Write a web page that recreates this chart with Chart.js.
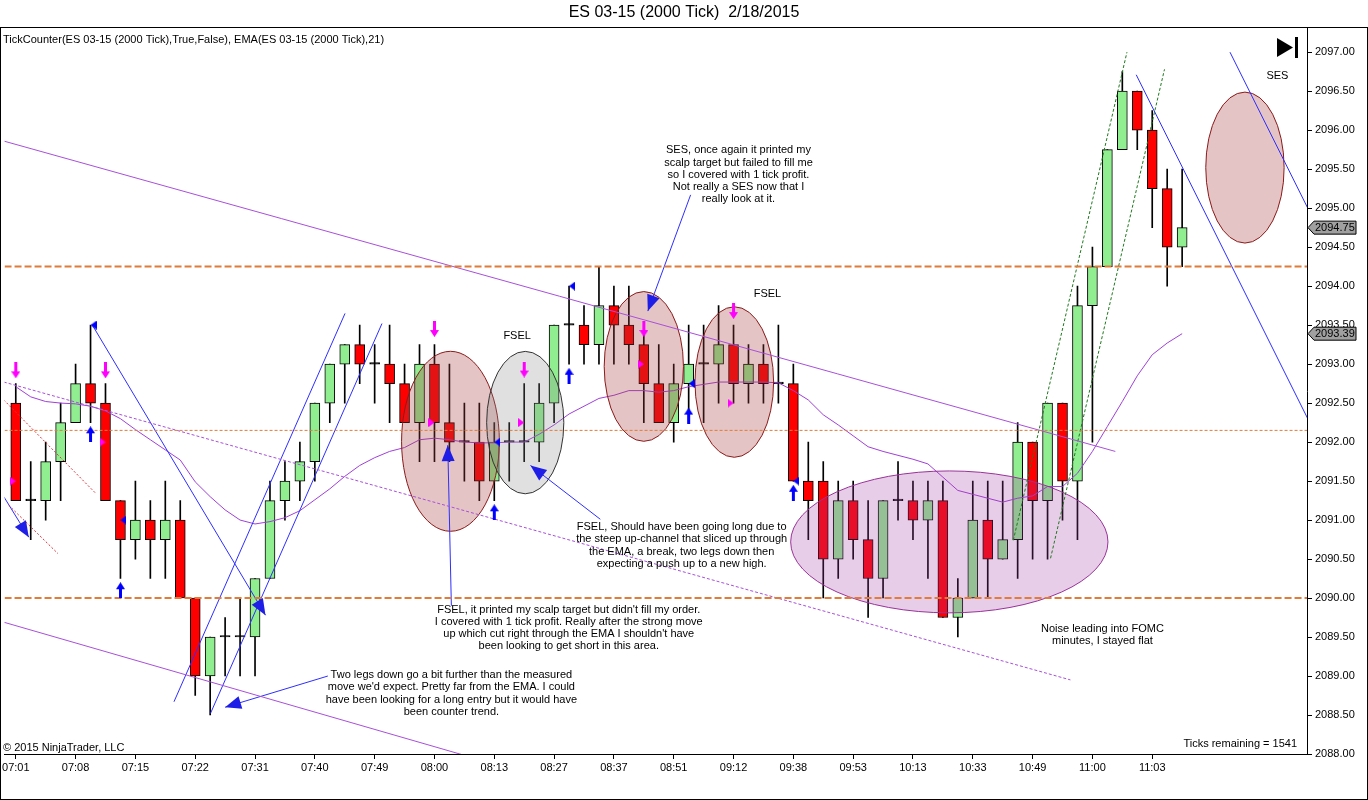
<!DOCTYPE html>
<html>
<head>
<meta charset="utf-8">
<script src="https://cdn.jsdelivr.net/npm/chart.js@4.4.1/dist/chart.umd.min.js"></script>
<style>
  html, body { margin: 0; padding: 0; background: #fff; }
  canvas { display: block; }
</style>
</head>
<body>
<canvas id="chart" width="1368" height="800"></canvas>
<script>
// ES 03-15 (2000 Tick) 2/18/2015
const timeLabels = ['07:01','07:08','07:15','07:22','07:31','07:40','07:49','08:00','08:13','08:27',
  '08:37','08:51','09:12','09:38','09:53','10:13','10:33','10:49','11:00','11:03'];
const labelStep = 4;

const opens = [
  2092.50,2091.25,2091.25,2091.75,2092.25,2092.75,2092.50,2091.25,2090.75,2091.00,
  2090.75,2091.00,2090.00,2089.00,2089.50,2089.50,2089.50,2090.25,2091.25,2091.50,
  2091.75,2092.50,2093.00,2093.25,2093.00,2093.00,2092.75,2092.25,2093.00,2092.25,
  2092.00,2092.00,2091.50,2092.00,2092.00,2092.00,2092.50,2093.50,2093.50,2093.25,
  2093.75,2093.50,2093.25,2092.75,2092.25,2092.75,2093.00,2093.00,2093.25,2092.75,
  2093.00,2092.75,2092.75,2091.50,2091.50,2090.50,2091.25,2090.75,2090.25,2091.25,
  2091.25,2091.00,2091.25,2089.75,2090.00,2091.00,2090.50,2090.75,2092.00,2091.25,
  2092.50,2091.50,2093.75,2094.25,2095.75,2096.50,2096.00,2095.25,2094.50];
const highs = [
  2092.75,2091.75,2092.00,2092.50,2093.00,2093.50,2092.75,2091.25,2091.50,2091.25,
  2091.50,2091.25,2090.00,2089.50,2089.75,2090.00,2090.25,2091.50,2091.75,2092.00,
  2092.50,2093.00,2093.25,2093.50,2093.25,2093.50,2093.00,2093.25,2093.25,2093.00,
  2092.50,2092.50,2092.25,2092.25,2092.75,2092.75,2093.50,2094.00,2093.75,2094.25,
  2094.00,2094.00,2093.50,2093.25,2093.00,2093.50,2093.50,2093.75,2093.50,2093.25,
  2093.25,2093.50,2093.00,2092.00,2091.75,2091.50,2091.50,2091.25,2091.25,2091.75,
  2091.50,2091.50,2091.50,2090.25,2091.50,2091.50,2091.50,2092.25,2092.00,2092.50,
  2092.50,2094.00,2094.50,2095.75,2096.75,2096.50,2096.25,2095.50,2095.50];
const lows = [
  2091.25,2090.75,2091.00,2091.25,2092.25,2092.25,2091.25,2090.25,2090.50,2090.25,
  2090.25,2090.00,2088.75,2088.50,2089.00,2089.00,2089.00,2090.25,2091.00,2091.25,
  2091.50,2092.25,2092.50,2092.75,2092.50,2092.25,2092.25,2091.75,2091.75,2091.75,
  2091.50,2091.25,2091.25,2091.50,2091.75,2091.75,2092.25,2093.00,2093.00,2093.00,
  2093.00,2093.00,2092.25,2092.25,2092.00,2092.25,2092.25,2092.50,2092.50,2092.50,
  2092.50,2092.50,2091.50,2090.75,2090.00,2090.25,2090.50,2089.75,2090.00,2091.00,
  2090.75,2090.25,2089.75,2089.50,2090.00,2090.00,2090.50,2090.25,2090.50,2090.50,
  2091.00,2090.75,2092.00,2094.25,2095.75,2095.75,2094.75,2094.00,2094.25];
const closes = [
  2091.25,2091.25,2091.75,2092.25,2092.75,2092.50,2091.25,2090.75,2091.00,2090.75,
  2091.00,2090.00,2089.00,2089.50,2089.50,2089.50,2090.25,2091.25,2091.50,2091.75,
  2092.50,2093.00,2093.25,2093.00,2093.00,2092.75,2092.25,2093.00,2092.25,2092.00,
  2092.00,2091.50,2092.00,2092.00,2092.00,2092.50,2093.50,2093.50,2093.25,2093.75,
  2093.50,2093.25,2092.75,2092.25,2092.75,2093.00,2093.00,2093.25,2092.75,2093.00,
  2092.75,2092.75,2091.50,2091.25,2090.50,2091.25,2090.75,2090.25,2091.25,2091.25,
  2091.00,2091.25,2089.75,2090.00,2091.00,2090.50,2090.75,2092.00,2091.25,2092.50,
  2091.50,2093.75,2094.25,2095.75,2096.50,2096.00,2095.25,2094.50,2094.75];
// EMA(21) as plotted
const ema = [
  2092.71,2092.58,2092.52,2092.50,2092.49,2092.46,2092.40,2092.30,2092.16,2092.03,
  2091.90,2091.77,2091.49,2091.30,2091.13,2091.00,2090.95,2090.98,2091.03,2091.12,
  2091.26,2091.40,2091.56,2091.70,2091.80,2091.88,2091.93,2092.03,2092.05,2092.03,
  2092.00,2091.99,2091.99,2092.00,2092.00,2092.10,2092.22,2092.36,2092.46,2092.56,
  2092.60,2092.66,2092.66,2092.64,2092.66,2092.71,2092.74,2092.77,2092.77,2092.77,
  2092.77,2092.76,2092.66,2092.54,2092.35,2092.22,2092.08,2091.94,2091.88,2091.83,
  2091.78,2091.72,2091.55,2091.38,2091.33,2091.28,2091.23,2091.28,2091.31,2091.43,
  2091.43,2091.60,2091.88,2092.20,2092.52,2092.85,2093.12,2093.27,2093.39];

const priceTicks = [2088,2088.5,2089,2089.5,2090,2090.5,2091,2091.5,2092,2092.5,
  2093,2093.5,2094,2094.5,2095,2095.5,2096,2096.5,2097];

// signal markers from TickCounter
const sellArrowBars = [0, 6, 28, 34, 42, 48];
const sellArrowPrices = [2092.92, 2092.92, 2093.45, 2092.93, 2093.45, 2093.68];
const sellTickPrices = [2091.50, 2092.00, 2092.25, 2092.25, 2093.00, 2092.50];
const buyArrowBars = [5, 7, 32, 37, 45, 52];
const buyArrowPrices = [2092.10, 2090.10, 2091.10, 2092.85, 2092.34, 2091.35];
const buyTickPrices = [2093.50, 2091.00, 2092.00, 2094.00, 2092.75, 2091.50];

// drawn objects, [bar1, price1, bar2, price2]
const levels = [2094.25, 2090.00];
const minorLevels = [2092.15];
const blueLines = [
  [10.58, 2088.67, 22.02, 2093.65],
  [13.02, 2088.52, 24.49, 2093.52],
  [74.93, 2096.71, 86.40, 2092.30],
  [81.20, 2097.00, 86.40, 2095.00]];
const blueArrows = [
  [5.09, 2093.51, 16.70, 2089.78],
  [20.87, 2089.00, 14.00, 2088.60],
  [-0.80, 2091.30, 0.87, 2090.78],
  [29.13, 2089.90, 28.89, 2091.96],
  [39.09, 2091.01, 34.42, 2091.70],
  [45.13, 2095.17, 42.27, 2093.68]];
const purpleLines = [
  [-0.80, 2095.86, 73.53, 2091.88],
  [-0.80, 2089.69, 31.50, 2087.90]];
const purpleDashed = [[-0.80, 2092.77, 70.53, 2088.95]];
const redDashed = [
  [-0.80, 2092.54, 5.31, 2091.35],
  [-0.47, 2091.19, 2.82, 2090.57]];
const greenDashed = [
  [66.71, 2090.74, 74.31, 2097.00],
  [69.20, 2090.51, 76.82, 2096.78]];
// ellipses: [bar, price, bar radius, price radius, kind]
const ellipses = [
  [29.07, 2092.01, 3.27, 1.154, 'brown'],
  [34.07, 2092.25, 2.58, 0.913, 'grey'],
  [42.00, 2092.97, 2.65, 0.960, 'brown'],
  [48.05, 2092.77, 2.63, 0.965, 'brown'],
  [62.43, 2090.72, 10.61, 0.910, 'purple'],
  [82.20, 2095.52, 2.62, 0.968, 'brown']];

const notes = [
  { bar: 48.33, price: 2095.74, lines: ['SES, once again it printed my', 'scalp target but failed to fill me',
    'so I covered with 1 tick profit.', 'Not really a SES now that I', 'really look at it.'] },
  { bar: 44.53, price: 2090.91, lines: ['FSEL, Should have been going long due to', 'the steep up-channel that sliced up through',
    'the EMA, a break, two legs down then', 'expecting a push up to a new high.'] },
  { bar: 36.98, price: 2089.85, lines: ['FSEL, it printed my scalp target but didn\'t fill my order.',
    'I covered with 1 tick profit. Really after the strong move', 'up which cut right through the EMA I shouldn\'t have',
    'been looking to get short in this area.'] },
  { bar: 29.13, price: 2089.01, lines: ['Two legs down go a bit further than the measured', 'move we\'d expect. Pretty far from the EMA. I could',
    'have been looking for a long entry but it would have', 'been counter trend.'] },
  { bar: 72.67, price: 2089.60, lines: ['Noise leading into FOMC', 'minutes, I stayed flat'] },
  { bar: 33.53, price: 2093.36, lines: ['FSEL'] },
  { bar: 50.27, price: 2093.90, lines: ['FSEL'] },
  { bar: 84.37, price: 2096.70, lines: ['SES'] }];

const FONT = '"Liberation Sans", Arial, sans-serif';
const X_MIN = -0.75, X_MAX = 86.35;

const ellipseStyles = {
  brown: { fill: 'rgba(165,60,60,0.30)', stroke: '#8B1A1A' },
  grey: { fill: 'rgba(130,130,130,0.25)', stroke: '#333333' },
  purple: { fill: 'rgba(163,55,163,0.25)', stroke: '#993399' }
};

function arrowImage(color, up) {
  const c = document.createElement('canvas');
  c.width = 9; c.height = 16;
  const g = c.getContext('2d');
  g.fillStyle = color;
  g.beginPath();
  if (up) {
    g.moveTo(4.5, 0); g.lineTo(9, 7); g.lineTo(6, 7); g.lineTo(6, 16);
    g.lineTo(3, 16); g.lineTo(3, 7); g.lineTo(0, 7);
  } else {
    g.moveTo(3, 0); g.lineTo(6, 0); g.lineTo(6, 9); g.lineTo(9, 9);
    g.lineTo(4.5, 16); g.lineTo(0, 9); g.lineTo(3, 9);
  }
  g.closePath();
  g.fill();
  return c;
}

function triangleImage(color, right) {
  const c = document.createElement('canvas');
  c.width = 6; c.height = 9;
  const g = c.getContext('2d');
  g.fillStyle = color;
  g.beginPath();
  if (right) { g.moveTo(0, 0); g.lineTo(6, 4.5); g.lineTo(0, 9); }
  else { g.moveTo(6, 0); g.lineTo(0, 4.5); g.lineTo(6, 9); }
  g.closePath();
  g.fill();
  return c;
}

function segmentDatasets(list, color, width, dash) {
  return list.map(s => ({
    type: 'line',
    data: [{ x: s[0], y: s[1] }, { x: s[2], y: s[3] }],
    borderColor: color,
    borderWidth: width,
    borderDash: dash,
    pointRadius: 0,
    order: 3
  }));
}

function markerDataset(bars, prices, offset, image) {
  return {
    type: 'scatter',
    data: bars.map((b, i) => ({ x: b + offset, y: prices[i] })),
    pointStyle: image,
    pointRadius: 5,
    order: 1
  };
}

const EMA_INDEX = 2;

const datasets = [
  {
    type: 'bar',
    data: highs.map((h, i) => ({ x: i, y: [lows[i], h] })),
    backgroundColor: '#000',
    barThickness: 1,
    grouped: false,
    order: 6
  },
  {
    type: 'bar',
    data: opens.map((o, i) => ({ x: i, y: [o, closes[i]] })),
    backgroundColor: closes.map((c, i) => c === opens[i] ? '#000' : (c > opens[i] ? '#90EE90' : '#FF0000')),
    borderColor: '#000',
    borderWidth: 1,
    borderSkipped: false,
    barThickness: 10,
    minBarLength: 1.5,
    grouped: false,
    order: 5
  },
  {
    type: 'line',
    data: ema.map((v, i) => ({ x: i, y: v })),
    borderColor: '#A040D8',
    borderWidth: 1,
    pointRadius: 0,
    order: 4
  },
  ...segmentDatasets(levels.map(l => [X_MIN, l, X_MAX + 1, l]), '#E07B39', 2, [7, 3]),
  ...segmentDatasets(minorLevels.map(l => [X_MIN, l, X_MAX + 1, l]), '#E07B39', 1, [3, 2]),
  ...segmentDatasets(purpleLines, '#A94FDB', 1, []),
  ...segmentDatasets(purpleDashed, '#A94FDB', 1, [3, 2]),
  ...segmentDatasets(redDashed, '#E0303A', 1, [2, 2]),
  ...segmentDatasets(greenDashed, '#1E7A1E', 1, [3, 2]),
  ...segmentDatasets(blueLines, '#2E2EFF', 1, []),
  ...segmentDatasets(blueArrows, '#2E2EFF', 1, []),
  markerDataset(sellArrowBars, sellArrowPrices, 0, arrowImage('#FF00FF', false)),
  markerDataset(sellArrowBars, sellTickPrices, -0.2, triangleImage('#FF00FF', true)),
  markerDataset(buyArrowBars, buyArrowPrices, 0, arrowImage('#0000FF', true)),
  markerDataset(buyArrowBars, buyTickPrices, 0.2, triangleImage('#0000FF', false))
];

function drawArrowHead(ctx, x1, y1, x2, y2) {
  const a = Math.atan2(y2 - y1, x2 - x1);
  const len = 16, half = 6.5;
  ctx.save();
  ctx.translate(x2, y2);
  ctx.rotate(a);
  ctx.fillStyle = '#1E1EE6';
  ctx.beginPath();
  ctx.moveTo(0, 0);
  ctx.lineTo(-len, -half);
  ctx.lineTo(-len, half);
  ctx.closePath();
  ctx.fill();
  ctx.restore();
}

function priceBox(ctx, x, y, text) {
  ctx.save();
  ctx.fillStyle = '#A0A0A0';
  ctx.strokeStyle = '#000';
  ctx.lineWidth = 1;
  ctx.beginPath();
  ctx.moveTo(x + 1, y);
  ctx.lineTo(x + 7, y - 6.5);
  ctx.lineTo(x + 49, y - 6.5);
  ctx.lineTo(x + 49, y + 6.5);
  ctx.lineTo(x + 7, y + 6.5);
  ctx.closePath();
  ctx.fill();
  ctx.stroke();
  ctx.fillStyle = '#000';
  ctx.font = '11px ' + FONT;
  ctx.textAlign = 'left';
  ctx.textBaseline = 'middle';
  ctx.fillText(text, x + 8, y + 0.5);
  ctx.restore();
}

const overlay = {
  id: 'overlay',
  beforeDraw(chart) {
    const ctx = chart.ctx;
    ctx.save();
    ctx.fillStyle = '#fff';
    ctx.fillRect(0, 0, chart.width, chart.height);
    ctx.restore();
  },
  afterDatasetDraw(chart, args) {
    if (args.index !== EMA_INDEX) return;
    const ctx = chart.ctx, xs = chart.scales.x, ys = chart.scales.y;
    const area = chart.chartArea;
    ctx.save();
    ctx.beginPath();
    ctx.rect(area.left, area.top, area.right - area.left, area.bottom - area.top);
    ctx.clip();
    ellipses.forEach(e => {
      const cx = xs.getPixelForValue(e[0]);
      const cy = ys.getPixelForValue(e[1]);
      const rx = Math.abs(xs.getPixelForValue(e[0] + e[2]) - cx);
      const ry = Math.abs(ys.getPixelForValue(e[1] + e[3]) - cy);
      const st = ellipseStyles[e[4]];
      ctx.beginPath();
      ctx.ellipse(cx, cy, rx, ry, 0, 0, Math.PI * 2);
      ctx.fillStyle = st.fill;
      ctx.fill();
      ctx.strokeStyle = st.stroke;
      ctx.lineWidth = 1;
      ctx.stroke();
    });
    ctx.restore();
  },
  afterDatasetsDraw(chart) {
    const ctx = chart.ctx, xs = chart.scales.x, ys = chart.scales.y;
    blueArrows.forEach(s => {
      drawArrowHead(ctx, xs.getPixelForValue(s[0]), ys.getPixelForValue(s[1]),
        xs.getPixelForValue(s[2]), ys.getPixelForValue(s[3]));
    });
    ctx.save();
    ctx.fillStyle = '#000';
    ctx.font = '11px ' + FONT;
    ctx.textAlign = 'center';
    ctx.textBaseline = 'middle';
    notes.forEach(n => {
      const x = xs.getPixelForValue(n.bar);
      const y = ys.getPixelForValue(n.price);
      n.lines.forEach((t, k) => ctx.fillText(t, x, y + k * 12.2));
    });
    ctx.textAlign = 'left';
    ctx.fillText('\u00A9 2015 NinjaTrader, LLC', 3, 748);
    ctx.textAlign = 'right';
    ctx.fillText('Ticks remaining = 1541', 1297, 744);
    ctx.restore();
  },
  afterDraw(chart) {
    const ctx = chart.ctx, ys = chart.scales.y;
    const area = chart.chartArea;
    ctx.save();
    // panel frame
    ctx.strokeStyle = '#000';
    ctx.lineWidth = 1;
    ctx.strokeRect(0.5, 27.5, chart.width - 1, chart.height - 28);
    // title and indicator line
    ctx.fillStyle = '#000';
    ctx.textBaseline = 'middle';
    ctx.textAlign = 'center';
    ctx.font = '16px ' + FONT;
    ctx.fillText('ES 03-15 (2000 Tick)  2/18/2015', 684, 13);
    ctx.textAlign = 'left';
    ctx.font = '11px ' + FONT;
    ctx.fillText('TickCounter(ES 03-15 (2000 Tick),True,False), EMA(ES 03-15 (2000 Tick),21)', 3, 40);
    // go-to-end icon
    ctx.beginPath();
    ctx.moveTo(1277, 38);
    ctx.lineTo(1293, 47.5);
    ctx.lineTo(1277, 57);
    ctx.closePath();
    ctx.fill();
    ctx.fillRect(1295, 37, 3, 21);
    ctx.restore();
    // last price / EMA markers on the axis
    priceBox(ctx, area.right, ys.getPixelForValue(closes[closes.length - 1]), closes[closes.length - 1].toFixed(2));
    priceBox(ctx, area.right, ys.getPixelForValue(ema[ema.length - 1]), ema[ema.length - 1].toFixed(2));
  }
};

new Chart(document.getElementById('chart'), {
  type: 'bar',
  data: { datasets },
  options: {
    responsive: false,
    animation: false,
    devicePixelRatio: 1,
    events: [],
    layout: { padding: { top: 28, left: 1, right: 0, bottom: 0 }, autoPadding: false },
    plugins: {
      legend: { display: false },
      tooltip: { enabled: false },
      title: { display: false }
    },
    scales: {
      x: {
        type: 'linear',
        min: X_MIN,
        max: X_MAX,
        offset: false,
        afterBuildTicks: s => { s.ticks = timeLabels.map((_, i) => ({ value: i * labelStep })); },
        afterFit: s => { s.height = 46; },
        ticks: {
          autoSkip: false,
          maxRotation: 0,
          padding: 2,
          color: '#000',
          font: { size: 11, family: FONT },
          callback: v => timeLabels[Math.round(v / labelStep)]
        },
        grid: { display: true, drawOnChartArea: false, drawTicks: true, tickLength: 5, tickColor: '#000', offset: false },
        border: { display: true, color: '#000', width: 1 }
      },
      y: {
        type: 'linear',
        position: 'right',
        min: 2088,
        max: 2097.31,
        afterBuildTicks: s => { s.ticks = priceTicks.map(v => ({ value: v })); },
        afterFit: s => { s.width = 61; },
        ticks: {
          padding: 3,
          color: '#000',
          font: { size: 11, family: FONT },
          callback: v => v.toFixed(2)
        },
        grid: { display: true, drawOnChartArea: false, drawTicks: true, tickLength: 5, tickColor: '#000' },
        border: { display: true, color: '#000', width: 1 }
      }
    }
  },
  plugins: [overlay]
});
</script>
</body>
</html>
